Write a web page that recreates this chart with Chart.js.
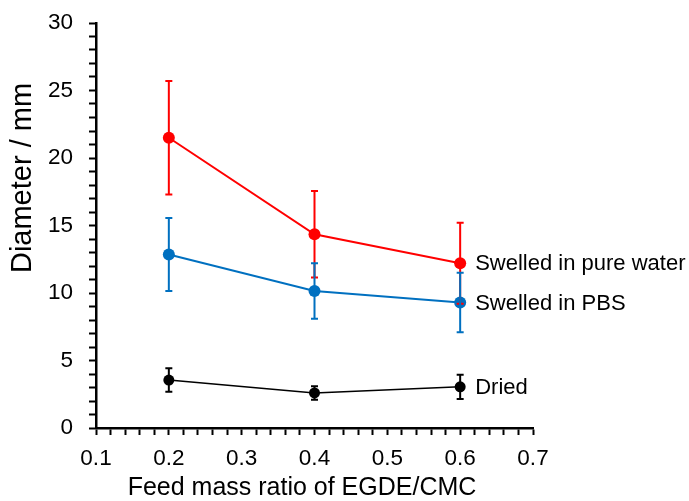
<!DOCTYPE html>
<html>
<head>
<meta charset="utf-8">
<script src="https://cdn.jsdelivr.net/npm/chart.js@4.4.1/dist/chart.umd.min.js"></script>
<style>
  html, body { margin: 0; padding: 0; background: #fff; }
  #wrap { width: 689px; height: 501px; position: relative; }
</style>
</head>
<body>
<div id="wrap"><canvas id="chart"></canvas></div>
<script>
// ===== dados =====
const ratios = [0.2, 0.4, 0.6];
const seriesNames = ['Swelled in pure water', 'Swelled in PBS', 'Dried'];
const waterMean = [21.5, 14.35, 12.2];
const waterErr  = [4.2, 3.2, 3.0];
const pbsMean   = [12.85, 10.15, 9.3];
const pbsErr    = [2.7, 2.05, 2.2];
const driedMean = [3.55, 2.6, 3.05];
const driedErr  = [0.87, 0.5, 0.9];
const yTickLabels = [0, 5, 10, 15, 20, 25, 30];
const xTickLabels = [0.1, 0.2, 0.3, 0.4, 0.5, 0.6, 0.7];

const FONT = 'Arial, "Liberation Sans", sans-serif';

function toPoints(means, errs) {
    return ratios.map((x, i) => ({ x: x, y: means[i], err: errs[i] }));
}

// barras de erro + rótulos das séries + títulos dos eixos
const extras = {
    id: 'extras',
    afterDatasetsDraw(chart) {
        const ctx = chart.ctx;
        const xs = chart.scales.x;
        const ys = chart.scales.y;
        chart.data.datasets.forEach(ds => {
            ctx.save();
            ctx.strokeStyle = ds.borderColor;
            ctx.lineWidth = 2;
            ds.data.forEach(p => {
                const px = xs.getPixelForValue(p.x);
                const top = ys.getPixelForValue(p.y + p.err);
                const bot = ys.getPixelForValue(p.y - p.err);
                ctx.beginPath();
                ctx.moveTo(px, top); ctx.lineTo(px, bot);
                ctx.moveTo(px - 3.5, top); ctx.lineTo(px + 3.5, top);
                ctx.moveTo(px - 3.5, bot); ctx.lineTo(px + 3.5, bot);
                ctx.stroke();
            });
            ctx.restore();
        });
    },
    afterDraw(chart) {
        const ctx = chart.ctx;
        const xs = chart.scales.x;
        const ys = chart.scales.y;
        ctx.save();
        ctx.fillStyle = '#000';
        ctx.font = '22px ' + FONT;
        ctx.textAlign = 'left';
        ctx.textBaseline = 'middle';
        chart.data.datasets.forEach(ds => {
            const last = ds.data[ds.data.length - 1];
            ctx.fillText(ds.label, xs.getPixelForValue(last.x) + 15, ys.getPixelForValue(last.y) + 1);
        });
        // títulos dos eixos
        ctx.font = '25px ' + FONT;
        ctx.textAlign = 'center';
        ctx.fillText('Feed mass ratio of EGDE/CMC', 302, 488);
        ctx.translate(23, 178);
        ctx.rotate(-Math.PI / 2);
        ctx.font = '29px ' + FONT;
        ctx.fillText('Diameter / mm', 0, 0);
        ctx.restore();
    }
};

const colors = ['#ff0000', '#0070c0', '#000000'];
const allData = [toPoints(waterMean, waterErr), toPoints(pbsMean, pbsErr), toPoints(driedMean, driedErr)];

new Chart(document.getElementById('chart'), {
    type: 'line',
    data: {
        datasets: seriesNames.map((name, i) => ({
            label: name,
            data: allData[i],
            borderColor: colors[i],
            backgroundColor: colors[i],
            borderWidth: i === 2 ? 1.5 : 2,
            pointRadius: i === 2 ? 5.5 : 6,
            pointBorderWidth: 0,
            tension: 0
        }))
    },
    options: {
        responsive: true,
        maintainAspectRatio: false,
        animation: false,
        events: [],
        layout: { padding: { left: 0, top: 23, right: 156, bottom: 0 } },
        plugins: { legend: { display: false }, tooltip: { enabled: false } },
        scales: {
            x: {
                type: 'linear',
                min: xTickLabels[0],
                max: xTickLabels[xTickLabels.length - 1],
                border: { color: '#000', width: 2.5 },
                grid: { drawOnChartArea: false, drawTicks: true, tickLength: 7, tickColor: '#000', tickWidth: 2 },
                ticks: {
                    stepSize: 0.02,
                    autoSkip: false,
                    maxRotation: 0,
                    padding: 10,
                    color: '#000',
                    font: { family: FONT, size: 22.5 },
                    callback: function(v) {
                        const k = Math.round(v * 100);
                        return k % 10 === 0 ? (k / 100).toFixed(1) : '';
                    }
                },
                afterFit: function(scale) { scale.height = 73; }
            },
            y: {
                min: yTickLabels[0],
                max: yTickLabels[yTickLabels.length - 1],
                border: { color: '#000', width: 2.5 },
                grid: { drawOnChartArea: false, drawTicks: true, tickLength: 7, tickColor: '#000', tickWidth: 2 },
                ticks: {
                    stepSize: 1,
                    autoSkip: false,
                    padding: 16,
                    color: '#000',
                    font: { family: FONT, size: 22.5 },
                    callback: function(v) { return v % 5 === 0 ? String(v) : ''; }
                },
                afterFit: function(scale) {
                    scale.width = 96;
                    scale.paddingTop = 0;
                    scale.paddingBottom = 0;
                }
            }
        }
    },
    plugins: [extras]
});
</script>
</body>
</html>
